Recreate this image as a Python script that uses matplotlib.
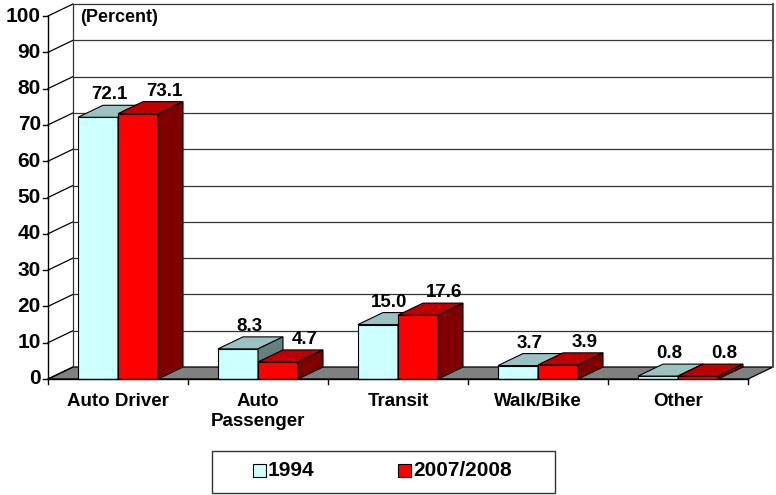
import numpy as np
import matplotlib.pyplot as plt
from matplotlib.patches import Polygon, Rectangle

# data
categories = ['Auto Driver', 'Auto\nPassenger', 'Transit', 'Walk/Bike', 'Other']
share_1994 = [72.1, 8.3, 15.0, 3.7, 0.8]
share_2008 = [73.1, 4.7, 17.6, 3.9, 0.8]
series_names = ['1994', '2007/2008']
yticks = [0, 10, 20, 30, 40, 50, 60, 70, 80, 90, 100]

plt.rcParams['font.family'] = ['Liberation Sans', 'DejaVu Sans']
plt.rcParams['font.weight'] = 'bold'

W, H = 776, 495
fig = plt.figure(figsize=(W / 100, H / 100), dpi=100)
fig.patch.set_facecolor('white')

# plot box in pixels: x 48..748, y 379 (0) .. 16 (100)
ax = fig.add_axes([48 / W, (H - 379) / H, 700 / W, 363 / H])
ax.set_xlim(0, 5)
ax.set_ylim(0, 100)
ax.axis('off')

ppx = 5 / 700.0      # data units per pixel (x)
ppy = 100 / 363.0    # data units per pixel (y)
dx = 25 * ppx        # depth offset
dy = 12 * ppy

grid_c = '#333333'
# back wall + side wall lines
for v in yticks:
    ax.plot([0, dx], [v, v + dy], color='black', lw=0.9, clip_on=False)
    if v > 0:
        ax.plot([dx, 5 + dx], [v + dy, v + dy], color=grid_c, lw=0.9, clip_on=False)
ax.plot([dx, dx], [dy, 100 + dy], color=grid_c, lw=0.9, clip_on=False)
ax.plot([5 + dx, 5 + dx], [dy, 100 + dy], color='#555555', lw=1.5, clip_on=False)

# floor
ax.add_patch(Polygon([(0, 0), (5, 0), (5 + dx, dy), (dx, dy)], closed=True,
                     facecolor='#808080', edgecolor='black', lw=0.9, clip_on=False))

faces = [('#CCFFFF', '#99C2C0', '#668080'), ('#FF0000', '#C00000', '#800000')]
label_shift = [-1, 14]   # px, excel puts the red labels a bit further right
bw = 40 / 140.0
gap = 30 / 140.0
for i in range(len(categories)):
    for j, vals in enumerate([share_1994, share_2008]):
        h = vals[i]
        x0 = i + gap + j * bw
        front, top, side = faces[j]
        ax.add_patch(Polygon([(x0, 0), (x0 + bw, 0), (x0 + bw, h), (x0, h)], closed=True,
                             facecolor=front, edgecolor='black', lw=0.8, clip_on=False, zorder=3))
        ax.add_patch(Polygon([(x0, h), (x0 + bw, h), (x0 + bw + dx, h + dy), (x0 + dx, h + dy)],
                             closed=True, facecolor=top, edgecolor='black', lw=0.8,
                             clip_on=False, zorder=3))
        ax.add_patch(Polygon([(x0 + bw, 0), (x0 + bw + dx, dy), (x0 + bw + dx, h + dy), (x0 + bw, h)],
                             closed=True, facecolor=side, edgecolor='black', lw=0.8,
                             clip_on=False, zorder=3))
        ax.text(x0 + bw / 2 + dx / 2 + label_shift[j] * ppx, h + dy + 6 * ppy, '%.1f' % h,
                ha='center', va='baseline', fontsize=13.5, fontweight='bold', zorder=5)

# front axes
ax.plot([0, 0], [0, 100], color='black', lw=1, clip_on=False, zorder=4)
ax.plot([0, 5], [0, 0], color='black', lw=1, clip_on=False, zorder=4)
for v in yticks:
    ax.plot([-5 * ppx, 0], [v, v], color='black', lw=1, clip_on=False)
    ax.text(-7 * ppx, v, str(v), ha='right', va='center', fontsize=15, fontweight='bold')
for i in range(len(categories) + 1):
    ax.plot([i, i], [0, -5 * ppy], color='black', lw=1, clip_on=False)
for i, c in enumerate(categories):
    ax.text(i + 0.5, -14 * ppy, c, ha='center', va='top', fontsize=13.5,
            fontweight='bold', linespacing=1.2)

ax.text(32 * ppx, 100 + 7 * ppy, '(Percent)', ha='left', va='top', fontsize=13,
        fontweight='bold')

# legend box drawn by hand
def fpos(x, y):
    return x / W, 1 - y / H

lx, ly = fpos(212, 493)
fig.add_artist(Rectangle((lx, ly), 343 / W, 42 / H, transform=fig.transFigure,
                         facecolor='white', edgecolor='#333333', lw=1))
for k, (name, sx) in enumerate(zip(series_names, [253, 398])):
    qx, qy = fpos(sx, 477)
    fig.add_artist(Rectangle((qx, qy), 13 / W, 13 / H, transform=fig.transFigure,
                             facecolor=faces[k][0], edgecolor='black', lw=0.8))
    tx, ty = fpos(sx + 15, 471)
    fig.text(tx, ty, name, ha='left', va='center', fontsize=15, fontweight='bold')

fig.savefig('out.png', dpi=100)
